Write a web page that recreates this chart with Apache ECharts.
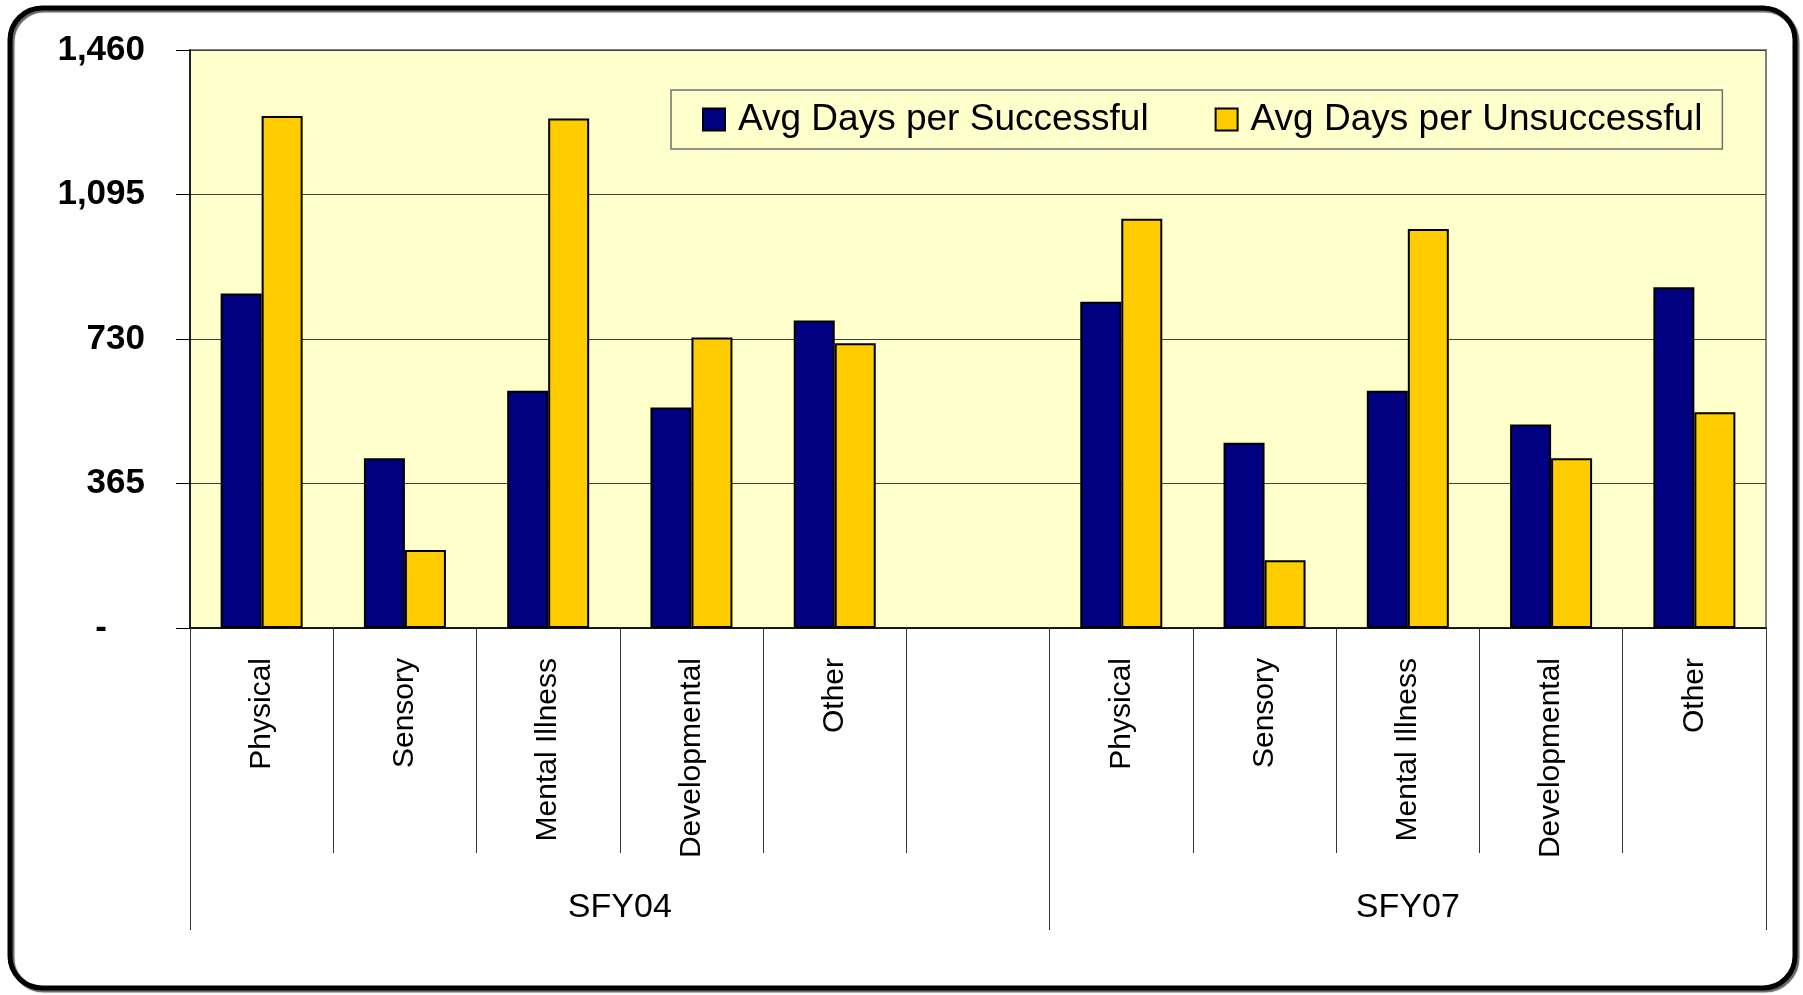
<!DOCTYPE html>
<html>
<head>
<meta charset="utf-8">
<title>Avg Days per Successful / Unsuccessful</title>
<script src="https://cdn.jsdelivr.net/npm/echarts@6/dist/echarts.min.js"></script>
<style>
  html, body { margin: 0; padding: 0; background: #fff; }
  #chart { width: 1803px; height: 995px; }
</style>
</head>
<body>
<div id="chart"></div>
<script>
// categories along the x axis (empty slot separates the two years)
var categories = ['Physical', 'Sensory', 'Mental Illness', 'Developmental', 'Other', '',
  'Physical', 'Sensory', 'Mental Illness', 'Developmental', 'Other']
// year groups and where they start/end on the category axis
var groups = ['SFY04', 'SFY07']
var groupBounds = [0, 6, 11]

var successful = [845, 429, 599, 557, 777, null, 824, 468, 599, 514, 861]
var unsuccessful = [1293, 197, 1287, 734, 719, null, 1034, 171, 1008, 429, 545]

var yTicks = [0, 365, 730, 1095, 1460]

var chart = echarts.init(document.getElementById('chart'))

var groupCenters = groups.map(function (g, i) {
  return (groupBounds[i] + groupBounds[i + 1]) / 2
})

var font = 'Liberation Sans, Arial, sans-serif'

chart.setOption({
  animation: false,
  graphic: [{
    type: 'rect',
    shape: { x: 10, y: 8, width: 1785, height: 980, r: 32 },
    style: {
      fill: 'none',
      stroke: '#000',
      lineWidth: 5,
      shadowColor: 'rgba(0,0,0,0.6)',
      shadowOffsetX: 2,
      shadowOffsetY: 2,
      shadowBlur: 1
    },
    z: 100
  }],
  grid: {
    left: 190,
    right: 37,
    top: 50,
    bottom: 367,
    show: true,
    backgroundColor: '#FFFFCC',
    borderColor: '#808080',
    borderWidth: 2
  },
  legend: {
    left: 671,
    top: 90,
    icon: 'rect',
    itemWidth: 22,
    itemHeight: 22,
    itemGap: 66,
    padding: [11, 20, 11, 31],
    backgroundColor: '#FFFFCC',
    borderColor: '#707070',
    borderWidth: 1.5,
    textStyle: {
      fontFamily: font,
      fontSize: 37,
      color: '#000',
      padding: [0, 0, 0, 8]
    },
    data: ['Avg Days per Successful', 'Avg Days per Unsuccessful']
  },
  xAxis: [{
    type: 'category',
    data: categories,
    position: 'bottom',
    axisLine: { lineStyle: { color: '#000', width: 1.5 } },
    axisTick: {
      show: true,
      interval: 0,
      length: 225,
      lineStyle: { color: '#333', width: 1 }
    },
    axisLabel: {
      interval: 0,
      rotate: 90,
      margin: 30,
      color: '#000',
      fontFamily: font,
      fontSize: 30
    }
  }, {
    type: 'value',
    min: groupBounds[0],
    max: groupBounds[groupBounds.length - 1],
    position: 'bottom',
    axisLine: { show: false },
    splitLine: { show: false },
    axisTick: {
      show: true,
      customValues: groupBounds,
      length: 302,
      lineStyle: { color: '#333', width: 1 }
    },
    axisLabel: {
      customValues: groupCenters,
      margin: 263,
      color: '#000',
      fontFamily: font,
      fontSize: 34,
      formatter: function (v) {
        var i = groupCenters.indexOf(v)
        return i >= 0 ? groups[i] : ''
      }
    }
  }],
  yAxis: {
    type: 'value',
    min: 0,
    max: yTicks[yTicks.length - 1],
    interval: yTicks[1],
    axisLine: { show: true, lineStyle: { color: '#000', width: 1.5 } },
    axisTick: { show: true, inside: false, length: 14, lineStyle: { color: '#000', width: 1 } },
    splitLine: { show: true, lineStyle: { color: '#404040', width: 1 } },
    axisLabel: {
      margin: 45,
      color: '#000',
      fontFamily: font,
      fontWeight: 'bold',
      fontSize: 35,
      formatter: function (v) {
        if (v === 0) return '{z|-}'
        return v.toLocaleString('en-US')
      },
      rich: {
        z: {
          fontFamily: font,
          fontWeight: 'bold',
          fontSize: 35,
          color: '#000',
          padding: [0, 38, 0, 0]
        }
      }
    }
  },
  series: [{
    name: 'Avg Days per Successful',
    type: 'bar',
    xAxisIndex: 0,
    barWidth: 41,
    barGap: '0%',
    itemStyle: { color: '#000080', borderColor: '#000', borderWidth: 2 },
    data: successful
  }, {
    name: 'Avg Days per Unsuccessful',
    type: 'bar',
    xAxisIndex: 0,
    barWidth: 41,
    barGap: '0%',
    itemStyle: { color: '#FFCC00', borderColor: '#000', borderWidth: 2 },
    data: unsuccessful
  }]
})
</script>
</body>
</html>
